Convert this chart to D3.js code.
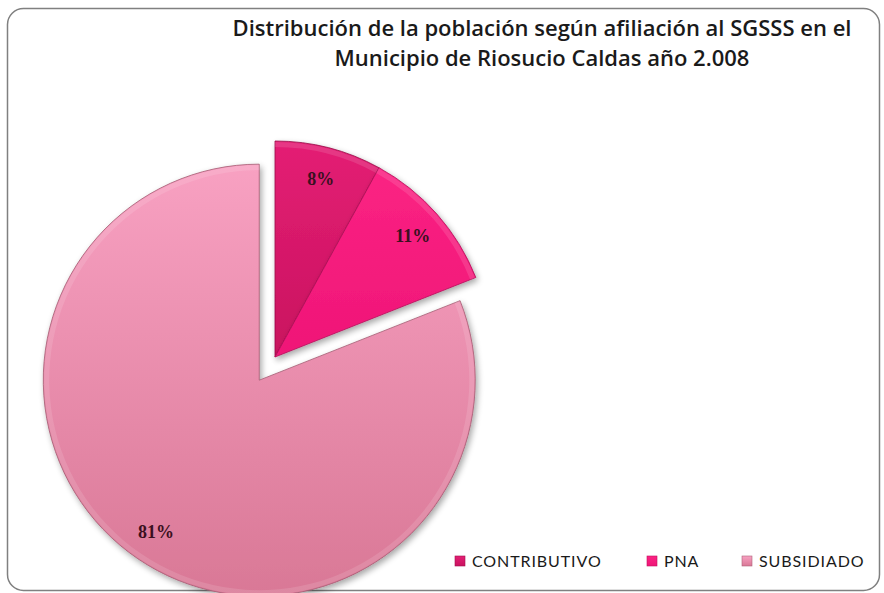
<!DOCTYPE html>
<html>
<head>
<meta charset="utf-8">
<script src="https://cdn.jsdelivr.net/npm/d3@7"></script>
<style>
  body { margin: 0; background: #fff; }
  svg { display: block; }
</style>
</head>
<body>
<script>
// data
const categories = ["CONTRIBUTIVO", "PNA", "SUBSIDIADO"];
const shares = [8, 11, 81];
const labels = ["8%", "11%", "81%"];
const titleLines = ["Distribución de la población según afiliación al SGSSS en el",
                    "Municipio de Riosucio Caldas año 2.008"];

const W = 884, H = 593;
const cx = 275, cy = 357, radius = 216;
// slice pulled out along its bisector (only SUBSIDIADO moves)
const explode = [0, 0, 28];
const colors = [
  ["#e41f74", "#c9125f"],
  ["#fb2383", "#ef1577"],
  ["#f8a1c2", "#d97896"]
];

const svg = d3.select("body").append("svg")
  .attr("width", W)
  .attr("height", H);

const defs = svg.append("defs");

colors.forEach((c, i) => {
  const g = defs.append("linearGradient")
    .attr("id", "grad" + i)
    .attr("x1", 0).attr("y1", 0).attr("x2", 0).attr("y2", 1);
  g.append("stop").attr("offset", "0%").attr("stop-color", c[0]);
  g.append("stop").attr("offset", "100%").attr("stop-color", c[1]);
});

// soft shadow under the slices
const shadow = defs.append("filter").attr("id", "shadow")
  .attr("x", "-10%").attr("y", "-10%").attr("width", "130%").attr("height", "130%");
shadow.append("feGaussianBlur").attr("in", "SourceAlpha").attr("stdDeviation", 3);
shadow.append("feOffset").attr("dx", 2).attr("dy", 3).attr("result", "off");
shadow.append("feComponentTransfer").append("feFuncA").attr("type", "linear").attr("slope", 0.35);
const merge = shadow.append("feMerge");
merge.append("feMergeNode");
merge.append("feMergeNode").attr("in", "SourceGraphic");

// chart frame
svg.append("rect")
  .attr("x", 7.5).attr("y", 8.5)
  .attr("width", 872).attr("height", 582)
  .attr("rx", 16).attr("ry", 16)
  .attr("fill", "#fff")
  .attr("stroke", "#808080")
  .attr("stroke-width", 1.5);

// title, sized so the first line spans about 620px like the original
const title = svg.append("g").selectAll("text")
  .data(titleLines)
  .join("text")
  .attr("x", 542)
  .attr("y", (d, i) => 36 + i * 30)
  .attr("text-anchor", "middle")
  .attr("font-family", "'Open Sans', 'Liberation Sans', sans-serif")
  .attr("font-weight", 600)
  .attr("font-size", 20)
  .attr("fill", "#1a1a1a")
  .text(d => d);
const w0 = title.node().getComputedTextLength();
title.attr("font-size", Math.min(22, 20 * 620 / w0));

const pie = d3.pie().sort(null).value(d => d);
const arcs = pie(shares);

const arc = d3.arc().innerRadius(0).outerRadius(radius);
const labelArc = d3.arc().innerRadius(radius * 0.85).outerRadius(radius * 0.85);

function offset(d, i) {
  const a = (d.startAngle + d.endAngle) / 2;
  return [Math.sin(a) * explode[i], -Math.cos(a) * explode[i]];
}

const slices = svg.append("g")
  .attr("transform", "translate(" + cx + "," + cy + ")");

const sliceG = slices.selectAll(".slice")
  .data(arcs)
  .join("g")
  .attr("class", "slice")
  .attr("transform", (d, i) => "translate(" + offset(d, i) + ")");

sliceG.append("path")
  .attr("d", arc)
  .attr("fill", (d, i) => "url(#grad" + i + ")")
  .attr("stroke", (d, i) => d3.color(colors[i][1]).darker(0.8))
  .attr("stroke-width", 0.8)
  .attr("filter", "url(#shadow)");

// thin light bevel along the rim
sliceG.append("path")
  .attr("d", d3.arc().innerRadius(radius - 6).outerRadius(radius - 1))
  .attr("fill", "#fff")
  .attr("opacity", 0.12);

sliceG.append("text")
  .attr("transform", d => "translate(" + labelArc.centroid(d) + ")")
  .attr("text-anchor", "middle")
  .attr("dy", "0.35em")
  .attr("font-family", "'Liberation Serif', 'DejaVu Serif', serif")
  .attr("font-weight", "bold")
  .attr("font-size", 18)
  .attr("fill", "#3a1020")
  .text((d, i) => labels[i]);

// legend
const legendX = [455, 647, 742];
const legend = svg.append("g").selectAll("g")
  .data(categories)
  .join("g")
  .attr("transform", (d, i) => "translate(" + legendX[i] + ",561)");

legend.append("rect")
  .attr("x", 0).attr("y", -5)
  .attr("width", 10).attr("height", 10)
  .attr("fill", (d, i) => "url(#grad" + i + ")")
  .attr("stroke", (d, i) => d3.color(colors[i][1]).darker(0.6))
  .attr("stroke-width", 0.6);

legend.append("text")
  .attr("x", 17)
  .attr("dy", "0.36em")
  .attr("font-family", "Lato, 'Liberation Sans', sans-serif")
  .attr("font-size", 16)
  .attr("letter-spacing", 0.9)
  .attr("fill", "#1a1a1a")
  .text(d => d);
</script>
</body>
</html>
